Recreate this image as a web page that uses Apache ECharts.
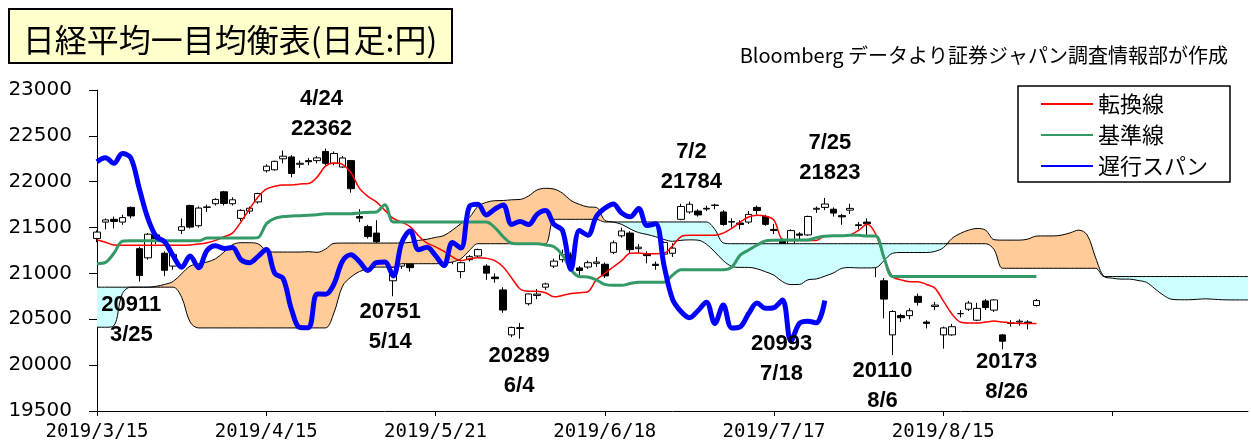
<!DOCTYPE html>
<html>
<head>
<meta charset="utf-8">
<script src="https://cdn.jsdelivr.net/npm/echarts@6/dist/echarts.min.js"></script>
<style>
  html, body { margin: 0; padding: 0; background: #fff; }
  #chart { width: 1251px; height: 446px; }
</style>
</head>
<body>
<div id="chart"></div>
<script>
// 日経平均 日足 (2019/3/15 - 2019/8/30)
const dates = [
  '2019/3/15','2019/3/18','2019/3/19','2019/3/20','2019/3/22','2019/3/25','2019/3/26','2019/3/27','2019/3/28','2019/3/29',
  '2019/4/1','2019/4/2','2019/4/3','2019/4/4','2019/4/5','2019/4/8','2019/4/9','2019/4/10','2019/4/11','2019/4/12',
  '2019/4/15','2019/4/16','2019/4/17','2019/4/18','2019/4/19','2019/4/22','2019/4/23','2019/4/24','2019/4/25','2019/4/26',
  '2019/5/7','2019/5/8','2019/5/9','2019/5/10','2019/5/13','2019/5/14','2019/5/15','2019/5/16','2019/5/17','2019/5/20',
  '2019/5/21','2019/5/22','2019/5/23','2019/5/24','2019/5/27','2019/5/28','2019/5/29','2019/5/30','2019/5/31','2019/6/3',
  '2019/6/4','2019/6/5','2019/6/6','2019/6/7','2019/6/10','2019/6/11','2019/6/12','2019/6/13','2019/6/14','2019/6/17',
  '2019/6/18','2019/6/19','2019/6/20','2019/6/21','2019/6/24','2019/6/25','2019/6/26','2019/6/27','2019/6/28','2019/7/1',
  '2019/7/2','2019/7/3','2019/7/4','2019/7/5','2019/7/8','2019/7/9','2019/7/10','2019/7/11','2019/7/12','2019/7/16',
  '2019/7/17','2019/7/18','2019/7/19','2019/7/22','2019/7/23','2019/7/24','2019/7/25','2019/7/26','2019/7/29','2019/7/30',
  '2019/7/31','2019/8/1','2019/8/2','2019/8/5','2019/8/6','2019/8/7','2019/8/8','2019/8/9','2019/8/13','2019/8/14',
  '2019/8/15','2019/8/16','2019/8/19','2019/8/20','2019/8/21','2019/8/22','2019/8/23','2019/8/26','2019/8/27','2019/8/28',
  '2019/8/29','2019/8/30'
];

const opens = [
  21380,21560,21590,21560,21720,21270,21170,21420,21220,21080,
  21470,21740,21520,21720,21760,21890,21760,21600,21680,21780,
  22120,22130,22250,22270,22190,22230,22230,22330,22200,22160,
  22230,21620,21510,21440,21200,20920,21080,21140,21240,21290,
  21230,21340,21160,21020,21150,21190,21080,20960,20820,20330,
  20400,20670,20760,20850,21080,21150,21200,21060,21070,21110,
  21100,21230,21410,21440,21270,21210,21100,21210,21220,21590,
  21670,21680,21710,21740,21670,21560,21550,21560,21720,21620,
  21480,21360,21150,21430,21420,21700,21720,21700,21630,21690,
  21530,21560,21210,20920,20330,20540,20540,20750,20470,20640,
  20330,20330,20560,20610,20490,20700,20600,20330,20460,20470,
  20470,20650
];
const closes = [
  21451,21584,21567,21609,21627,20977,21428,21379,21034,21206,
  21509,21505,21713,21725,21807,21762,21803,21688,21711,21871,
  22169,22222,22278,22090,22201,22218,22260,22200,22308,22259,
  21924,21603,21402,21345,21191,21067,21189,21063,21250,21302,
  21272,21283,21151,21117,21183,21260,21003,20943,20601,20411,
  20409,20776,20774,20885,21134,21204,21130,21032,21117,21124,
  20973,21334,21463,21259,21286,21194,21087,21338,21276,21730,
  21754,21638,21702,21746,21534,21565,21533,21644,21686,21535,
  21469,21046,21467,21417,21621,21710,21757,21658,21617,21709,
  21522,21541,21087,20720,20585,20517,20593,20685,20455,20655,
  20406,20419,20563,20677,20619,20628,20711,20261,20456,20479,
  20461,20704
];
const lows = [
  21340,21480,21490,21530,21600,20911,21150,21320,20970,21040,
  21430,21490,21500,21670,21740,21740,21740,21570,21650,21760,
  22100,22120,22200,22050,22150,22180,22200,22180,22180,22150,
  21880,21560,21380,21180,21150,20751,21050,21020,21180,21230,
  21200,21260,21100,20950,21130,21170,20930,20900,20570,20305,
  20289,20650,20720,20820,21060,21120,21100,20980,21050,21070,
  20950,21210,21390,21220,21220,21110,21040,21190,21180,21580,
  21650,21620,21680,21700,21520,21500,21480,21540,21640,21520,
  21430,20993,21130,21370,21410,21660,21690,21620,21530,21650,
  21480,21400,20960,20510,20110,20470,20500,20650,20400,20600,
  20180,20320,20520,20590,20480,20600,20580,20173,20420,20430,
  20390,20640
];
const highs = [
  21470,21600,21620,21640,21730,21290,21440,21450,21240,21220,
  21600,21750,21730,21750,21820,21900,21830,21700,21730,21880,
  22190,22230,22340,22290,22230,22260,22280,22362,22330,22280,
  22230,21700,21530,21580,21260,21090,21220,21160,21290,21340,
  21300,21360,21200,21130,21200,21270,21100,21000,20850,20420,
  20460,20780,20830,20900,21160,21260,21230,21080,21140,21180,
  21120,21360,21500,21460,21320,21240,21130,21350,21330,21760,
  21784,21700,21740,21760,21690,21600,21580,21680,21740,21640,
  21540,21380,21480,21450,21630,21730,21823,21720,21650,21760,
  21560,21600,21230,20950,20600,20560,20620,20780,20490,20690,
  20420,20450,20600,20700,20680,20720,20720,20340,20490,20500,
  20490,20720
];

// 転換線
const tenkan = [
  21368,21340,21310,21306,21306,21306,21306,21306,21306,21306,
  21306,21310,21320,21335,21360,21400,21440,21560,21700,21830,
  21920,21950,21965,21965,21975,21980,22050,22170,22205,22190,
  22100,21930,21840,21780,21690,21600,21560,21510,21410,21330,
  21290,21240,21180,21140,21160,21171,21165,21140,21070,20950,
  20830,20807,20807,20790,20745,20760,20780,20790,20800,20930,
  21000,21070,21140,21220,21222,21215,21215,21220,21300,21400,
  21415,21415,21415,21415,21440,21490,21560,21616,21634,21625,
  21580,21370,21360,21360,21360,21360,21408,21408,21408,21420,
  21470,21535,21430,21170,20966,20930,20910,20910,20880,20840,
  20700,20560,20470,20460,20460,20470,20480,20470,20460,20455,
  20455,20455
];
// 基準線
const kijun = [
  21106,21120,21220,21350,21355,21355,21355,21355,21355,21355,
  21355,21355,21355,21385,21385,21385,21385,21385,21385,21390,
  21540,21600,21620,21625,21630,21634,21640,21650,21650,21650,
  21650,21660,21665,21670,21750,21560,21560,21560,21560,21560,
  21560,21560,21560,21560,21561,21561,21561,21500,21400,21330,
  21324,21324,21324,21310,21290,21200,21040,20965,20960,20930,
  20880,20870,20870,20890,20905,20905,20905,20905,20980,21040,
  21040,21040,21040,21040,21040,21069,21200,21255,21310,21355,
  21362,21365,21365,21365,21365,21390,21405,21410,21410,21415,
  21415,21408,21408,21170,20966,20966,20966,20966,20966,20966,
  20966,20966,20966,20966,20966,20966,20966,20966,20966,20966,
  20966,20966
];
// 先行スパン1 / 先行スパン2 (2019/3/15 から 25 日先まで)
const spanA = [
  20413,20413,20430,20780,20850,20850,20850,20860,20880,20913,
  20997,21080,21106,21124,21160,21233,21313,21335,21335,21324,
  21251,21233,21233,21233,21233,
  21237,21230,21265,21328,21331,21331,21331,21331,21331,21331,
  21331,21333,21338,21360,21373,21393,21413,21473,21543,21610,
  21730,21775,21793,21795,21803,21807,21845,21910,21928,21920,
  21875,21795,21753,21725,21720,21580,21560,21535,21485,21445,
  21425,21400,21370,21350,21361,21366,21363,21320,21235,21140,
  21077,21066,21066,21050,21018,20980,20910,20878,20880,20930,
  20940,20970,21005,21055,21064,21060,21060,21063,21140,21220,
  21228,21228,21228,21228,21240,21280,21380,21436,21472,21490,
  21471,21368,21363,21363,21363,21375,21407,21409,21409,21418,
  21443,21472,21419,21170,20966,20948,20938,20938,20923,20903,
  20833,20763,20718,20713,20713,20718,20723,20718,20713,20711,
  20711,20711
];
const spanB = [
  20850,20850,20850,20850,20850,20850,20850,20850,20850,20850,
  20740,20470,20406,20406,20406,20406,20406,20406,20406,20406,
  20406,20406,20406,20406,20406,20406,20406,20406,20570,20860,
  20960,21020,21050,21069,21069,21069,21106,21106,21106,21106,
  21106,21110,21125,21160,21250,21324,21324,21324,21324,21324,
  21324,21324,21324,21324,21590,21590,21590,21590,21590,21590,
  21561,21561,21561,21561,21561,21561,21561,21561,21561,21561,
  21561,21561,21561,21481,21333,21324,21324,21324,21324,21324,
  21324,21324,21324,21324,21324,21324,21324,21324,21324,21324,
  21324,21324,21324,21324,21324,21324,21324,21324,21324,21324,
  21324,21324,21324,21324,21324,21324,21260,21056,21056,21056,
  21056,21056,21056,21056,21056,21056,21056,21056,21056,20966,
  20966,20966,20966,20966,20966,20966,20966,20966,20966,20966,
  20966,20966,20966,20966,20966,20966,20966
];

// 高値・安値の注記
const noteDates = ['2019/3/25','2019/4/24','2019/5/14','2019/6/4','2019/7/2','2019/7/18','2019/7/25','2019/8/6','2019/8/26'];
const noteValues = [20911, 22362, 20751, 20289, 21784, 20993, 21823, 20110, 20173];

const yTicks = [19500, 23000, 500]; // min, max, interval
const shift = 25; // 先行・遅行のずらし

// ---- build ----
const cats = dates.concat(Array.from({ length: shift }, (_, k) => 'f' + (k + 1)));
const candles = dates.map((d, i) => [opens[i], closes[i], lows[i], highs[i]]);
const chikou = closes.slice(shift);
const kumoLow = spanA.map((a, j) => Math.min(a, spanB[j]));
const kumoUp = spanA.map((a, j) => Math.max(a - spanB[j], 0));
const kumoDown = spanA.map((a, j) => Math.max(spanB[j] - a, 0));

const noteOffsets = [[-8, 38], [-4, -35], [-3, 31], [-1, 32], [2, -35], [-1, 85], [5, -40], [-10, 31], [4, 28]];
const notes = noteDates.map((d, k) => {
  const i = dates.indexOf(d);
  const md = d.slice(5);
  const isHigh = highs[i] === noteValues[k];
  return {
    coord: [d, noteValues[k]],
    label: {
      formatter: isHigh ? md + '\n' + noteValues[k] : noteValues[k] + '\n' + md,
      offset: noteOffsets[k]
    }
  };
});

const SM = 0.35;
const chart = echarts.init(document.getElementById('chart'));
chart.setOption({
  animation: false,
  backgroundColor: '#fff',
  textStyle: { fontFamily: '"Noto Sans CJK JP", sans-serif' },
  grid: { left: 97, right: 3, top: 90, bottom: 35, outerBoundsMode: 'none' },
  legend: {
    data: ['転換線', '基準線', '遅行スパン'],
    orient: 'vertical',
    left: 1018,
    top: 86,
    itemWidth: 52,
    itemHeight: 14,
    itemGap: 9,
    padding: [7, 22, 5, 22],
    borderColor: '#000',
    borderWidth: 1.5,
    backgroundColor: '#fff',
    itemStyle: { opacity: 0 },
    textStyle: { fontSize: 22, lineHeight: 22, color: '#000', fontFamily: '"Noto Sans CJK JP"' }
  },
  graphic: [
    {
      type: 'rect',
      shape: { x: 9, y: 9, width: 443, height: 54 },
      style: { fill: '#FFFFCC', stroke: '#000', lineWidth: 2 }
    },
    {
      type: 'text',
      x: 230, y: 40,
      style: {
        text: '日経平均一目均衡表(日足:円)',
        font: '32px "Noto Sans CJK JP"',
        fill: '#000',
        textAlign: 'center',
        textVerticalAlign: 'middle'
      }
    },
    {
      type: 'text',
      x: 1228, y: 55,
      style: {
        text: 'Bloomberg データより証券ジャパン調査情報部が作成',
        font: '20px "Noto Sans CJK JP"',
        fill: '#000',
        textAlign: 'right',
        textVerticalAlign: 'middle'
      }
    }
  ],
  xAxis: {
    type: 'category',
    data: cats,
    boundaryGap: false,
    axisLine: { lineStyle: { color: '#000', width: 1 } },
    axisTick: { interval: 19, length: 5, lineStyle: { color: '#000' } },
    axisLabel: {
      interval: 19,
      margin: 12,
      color: '#000',
      fontSize: 19,
      fontFamily: '"DejaVu Sans Mono"',
      formatter: (v, i) => (i < dates.length ? v : '')
    },
    splitLine: { show: false }
  },
  yAxis: {
    type: 'value',
    min: yTicks[0],
    max: yTicks[1],
    interval: yTicks[2],
    axisLine: { show: true, lineStyle: { color: '#000', width: 1 } },
    axisTick: { show: true, length: 8, lineStyle: { color: '#000' } },
    axisLabel: {
      margin: 25, color: '#000', fontSize: 20, fontFamily: '"DejaVu Sans"',
      formatter: v => String(v)
    },
    splitLine: { show: false }
  },
  series: [
    {
      name: 'kumoBase', type: 'line', stack: 'kumo', data: kumoLow,
      symbol: 'none', smooth: SM, silent: true, lineStyle: { opacity: 0 }
    },
    {
      name: 'kumoUp', type: 'line', stack: 'kumo', data: kumoUp,
      symbol: 'none', smooth: SM, silent: true, lineStyle: { opacity: 0 },
      areaStyle: { color: '#FFCC99', opacity: 1 }
    },
    {
      name: 'kumoDown', type: 'line', stack: 'kumo', data: kumoDown,
      symbol: 'none', smooth: SM, silent: true, lineStyle: { opacity: 0 },
      areaStyle: { color: '#CCFFFF', opacity: 1 }
    },
    {
      name: '先行スパン1', type: 'line', data: spanA, symbol: 'none', smooth: SM, silent: true,
      lineStyle: { color: '#000', width: 1 }
    },
    {
      name: '先行スパン2', type: 'line', data: spanB, symbol: 'none', smooth: SM, silent: true,
      lineStyle: { color: '#000', width: 1 }
    },
    {
      name: '日経平均', type: 'candlestick', data: candles, barWidth: 7,
      itemStyle: { color: '#fff', color0: '#000', borderColor: '#000', borderColor0: '#000', borderWidth: 1 },
      markPoint: {
        symbol: 'circle',
        symbolSize: 1,
        itemStyle: { color: 'rgba(0,0,0,0)' },
        label: {
          show: true, position: 'inside', color: '#000', fontWeight: 'bold',
          fontSize: 22, lineHeight: 30, fontFamily: '"Liberation Sans"'
        },
        data: notes
      }
    },
    {
      name: '転換線', type: 'line', data: tenkan, symbol: 'none', smooth: SM,
      lineStyle: { color: '#FF0000', width: 1.5 }, itemStyle: { color: '#FF0000' }
    },
    {
      name: '基準線', type: 'line', data: kijun, symbol: 'none', smooth: SM,
      lineStyle: { color: '#339966', width: 3 }, itemStyle: { color: '#339966' }
    },
    {
      name: '遅行スパン', type: 'line', data: chikou, symbol: 'none', smooth: SM,
      lineStyle: { color: '#0000FF', width: 5 }, itemStyle: { color: '#0000FF' }
    }
  ]
});
</script>
</body>
</html>
